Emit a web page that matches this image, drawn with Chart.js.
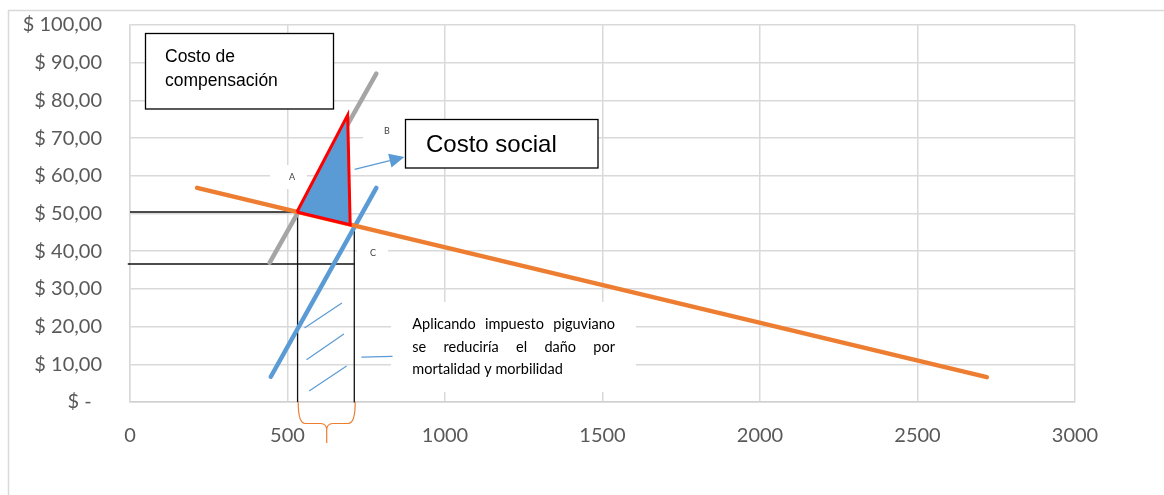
<!DOCTYPE html>
<html>
<head>
<meta charset="utf-8">
<script src="https://cdn.jsdelivr.net/npm/chart.js@4/dist/chart.umd.min.js"></script>
<style>
  html, body { margin: 0; padding: 0; background: #fff; overflow: hidden; }
  canvas { display: block; }
</style>
</head>
<body>
<canvas id="grafico" width="1164" height="495"></canvas>
<script>
// Axis ticks
const xTickValues = [0, 500, 1000, 1500, 2000, 2500, 3000];
const yTickValues = [0, 10, 20, 30, 40, 50, 60, 70, 80, 90, 100];
const yTickLabels = ['$ -  ', '$ 10,00', '$ 20,00', '$ 30,00', '$ 40,00', '$ 50,00',
                     '$ 60,00', '$ 70,00', '$ 80,00', '$ 90,00', '$ 100,00'];

// Demanda (orange)
const demandaX = [213, 2720];
const demandaY = [56.8, 6.6];
// Costo marginal social (gray)
const costoSocialX = [443, 782];
const costoSocialY = [36.9, 87.1];
// Costo marginal privado (blue)
const costoPrivadoX = [447, 782];
const costoPrivadoY = [6.7, 56.8];
// Pérdida de bienestar (triangle)
const trianguloX = [530, 691, 699, 530];
const trianguloY = [50.4, 76.1, 47.0, 50.4];
// Guide lines (black)
const guia1X = [0, 532, 532];
const guia1Y = [50.4, 50.4, 0];
const guia2X = [-7, 712];
const guia2Y = [36.6, 36.6];
const guia3X = [712, 712];
const guia3Y = [46.7, 0];
// Hatching between the guides
const raya1X = [555, 671.5];
const raya1Y = [19.7, 26.2];
const raya2X = [561.5, 677.8];
const raya2Y = [11.3, 18.0];
const raya3X = [569.8, 686.4];
const raya3Y = [3.0, 9.5];
const conectorX = [736, 832];
const conectorY = [11.9, 12.1];
// Arrow towards "Costo social"
const flechaX = [713, 871];
const flechaY = [61.7, 65.0];
// Brace under the axis
const llaveX = [534, 715];

const puntos = (xs, ys) => xs.map((x, i) => ({ x: x, y: ys[i] }));

const AZUL = '#5B9BD5', NARANJA = '#ED7D31', GRIS = '#A5A5A5', ROJO = '#FF0000';
const TICK_FONT = { family: 'Lato', size: 20 };

function linea(xs, ys, color, width, extra) {
  return Object.assign({
    data: puntos(xs, ys), showLine: true, borderColor: color, borderWidth: width,
    pointRadius: 0, fill: false, tension: 0, borderCapStyle: 'round',
    borderJoinStyle: 'round', clip: false
  }, extra || {});
}

const anotaciones = {
  id: 'anotaciones',
  beforeDraw(chart) {
    const ctx = chart.ctx;
    ctx.save();
    ctx.fillStyle = '#fff';
    ctx.fillRect(0, 0, chart.width, chart.height);
    ctx.strokeStyle = '#d9d9d9';
    ctx.lineWidth = 1.5;
    ctx.strokeRect(8.5, 10.5, 1300, 700);
    ctx.restore();
  },
  beforeDatasetsDraw(chart) {
    const ctx = chart.ctx;
    ctx.save();
    ctx.fillStyle = '#fff';
    ctx.fillRect(270, 165, 37, 24);   // A
    ctx.fillRect(363, 120, 42, 36);   // B
    ctx.fillRect(357, 240, 31, 24);   // C
    ctx.fillRect(391, 302, 245, 90);  // nota
    ctx.restore();
  },
  afterDatasetsDraw(chart) {
    const ctx = chart.ctx;
    const sx = chart.scales.x, sy = chart.scales.y;
    ctx.save();

    // small letters
    ctx.fillStyle = '#404040';
    ctx.font = '9px Lato';
    ctx.textAlign = 'center';
    ctx.textBaseline = 'middle';
    ctx.fillText('A', 292, 177);
    ctx.fillText('B', 387, 131);
    ctx.fillText('C', 373, 253);

    // arrow
    const ax0 = sx.getPixelForValue(flechaX[0]), ay0 = sy.getPixelForValue(flechaY[0]);
    const ax1 = sx.getPixelForValue(flechaX[1]), ay1 = sy.getPixelForValue(flechaY[1]);
    const ang = Math.atan2(ay1 - ay0, ax1 - ax0);
    const largo = 15, ancho = 7;
    const bx = ax1 - largo * Math.cos(ang), by = ay1 - largo * Math.sin(ang);
    ctx.strokeStyle = AZUL; ctx.fillStyle = AZUL; ctx.lineWidth = 1.3;
    ctx.beginPath(); ctx.moveTo(ax0, ay0); ctx.lineTo(bx, by); ctx.stroke();
    ctx.beginPath();
    ctx.moveTo(ax1, ay1);
    ctx.lineTo(bx + ancho * Math.sin(ang), by - ancho * Math.cos(ang));
    ctx.lineTo(bx - ancho * Math.sin(ang), by + ancho * Math.cos(ang));
    ctx.closePath(); ctx.fill();

    // boxed labels
    ctx.textAlign = 'left';
    ctx.textBaseline = 'alphabetic';
    ctx.fillStyle = '#fff';
    ctx.fillRect(145.5, 33.5, 188, 75.5);
    ctx.strokeStyle = '#000'; ctx.lineWidth = 1.3;
    ctx.strokeRect(145.5, 33.5, 188, 75.5);
    ctx.fillStyle = '#000';
    ctx.font = '17.5px "Liberation Sans", Arial, sans-serif';
    ctx.fillText('Costo de', 165, 62.3);
    ctx.fillText('compensación', 165, 85.7);

    ctx.fillStyle = '#fff';
    ctx.fillRect(405.5, 119.5, 192.5, 48.5);
    ctx.strokeRect(405.5, 119.5, 192.5, 48.5);
    ctx.fillStyle = '#000';
    ctx.font = '24px "Liberation Sans", Arial, sans-serif';
    ctx.fillText('Costo social', 426, 152);

    // justified note
    ctx.font = '14.5px Lato';
    const lineas = [['Aplicando', 'impuesto', 'piguviano'],
                    ['se', 'reduciría', 'el', 'daño', 'por']];
    const izq = 412.3, der = 615;
    const bases = [329, 351.5, 373.5];
    lineas.forEach((pal, k) => {
      const total = pal.reduce((s, p) => s + ctx.measureText(p).width, 0);
      const hueco = (der - izq - total) / (pal.length - 1);
      let x = izq;
      pal.forEach(p => { ctx.fillText(p, x, bases[k]); x += ctx.measureText(p).width + hueco; });
    });
    ctx.fillText('mortalidad y morbilidad', izq, bases[2]);

    // brace
    const L = sx.getPixelForValue(llaveX[0]), R = sx.getPixelForValue(llaveX[1]);
    const M = (L + R) / 2, top = sy.getPixelForValue(0), h = top + 21.5, fin = top + 41;
    ctx.strokeStyle = NARANJA; ctx.lineWidth = 1.2;
    ctx.beginPath();
    ctx.moveTo(L, top); ctx.quadraticCurveTo(L, h, L + 7, h); ctx.lineTo(M - 6, h);
    ctx.quadraticCurveTo(M, h, M, h + 7); ctx.lineTo(M, fin);
    ctx.moveTo(R, top); ctx.quadraticCurveTo(R, h, R - 7, h); ctx.lineTo(M + 6, h);
    ctx.quadraticCurveTo(M, h, M, h + 7);
    ctx.stroke();
    ctx.restore();
  }
};

new Chart(document.getElementById('grafico'), {
  type: 'scatter',
  data: {
    datasets: [
      linea(trianguloX, trianguloY, ROJO, 3, { fill: 'shape', backgroundColor: AZUL, borderCapStyle: 'butt', borderJoinStyle: 'miter' }),
      linea(demandaX, demandaY, NARANJA, 4.5),
      linea(costoPrivadoX, costoPrivadoY, AZUL, 4.5),
      linea(costoSocialX, costoSocialY, GRIS, 4.5),
      linea(guia1X, guia1Y, '#111', 1.3, { borderCapStyle: 'butt', borderJoinStyle: 'miter' }),
      linea(guia2X, guia2Y, '#111', 1.3, { borderCapStyle: 'butt' }),
      linea(guia3X, guia3Y, '#111', 1.3, { borderCapStyle: 'butt' }),
      linea(raya1X, raya1Y, AZUL, 1.2),
      linea(raya2X, raya2Y, AZUL, 1.2),
      linea(raya3X, raya3Y, AZUL, 1.2),
      linea(conectorX, conectorY, AZUL, 1.2)
    ]
  },
  options: {
    responsive: false,
    devicePixelRatio: 1,
    animation: false,
    events: [],
    layout: { padding: { left: 0, top: 25, right: 89, bottom: 0 } },
    plugins: { legend: { display: false }, tooltip: { enabled: false } },
    scales: {
      x: {
        type: 'linear', min: 0, max: 3000,
        afterBuildTicks: s => { s.ticks = xTickValues.map(v => ({ value: v })); },
        afterFit: s => { s.height = 93; s.paddingLeft = 0; s.paddingRight = 0; },
        ticks: { font: TICK_FONT, color: '#595959', padding: 22, maxRotation: 0,
                 callback: v => String(v) },
        grid: { color: '#d9d9d9', lineWidth: 1.5, drawTicks: false },
        border: { color: '#d0d0d0', width: 1.5 }
      },
      y: {
        type: 'linear', min: 0, max: 100,
        afterBuildTicks: s => { s.ticks = yTickValues.map(v => ({ value: v })); },
        afterFit: s => { s.width = 130; s.paddingTop = 0; s.paddingBottom = 0; },
        ticks: { font: TICK_FONT, color: '#595959', padding: 28,
                 callback: (v, i) => yTickLabels[i] },
        grid: { color: '#d9d9d9', lineWidth: 1.5, drawTicks: false },
        border: { color: '#d9d9d9', width: 1.5 }
      }
    }
  },
  plugins: [anotaciones]
});
</script>
</body>
</html>
